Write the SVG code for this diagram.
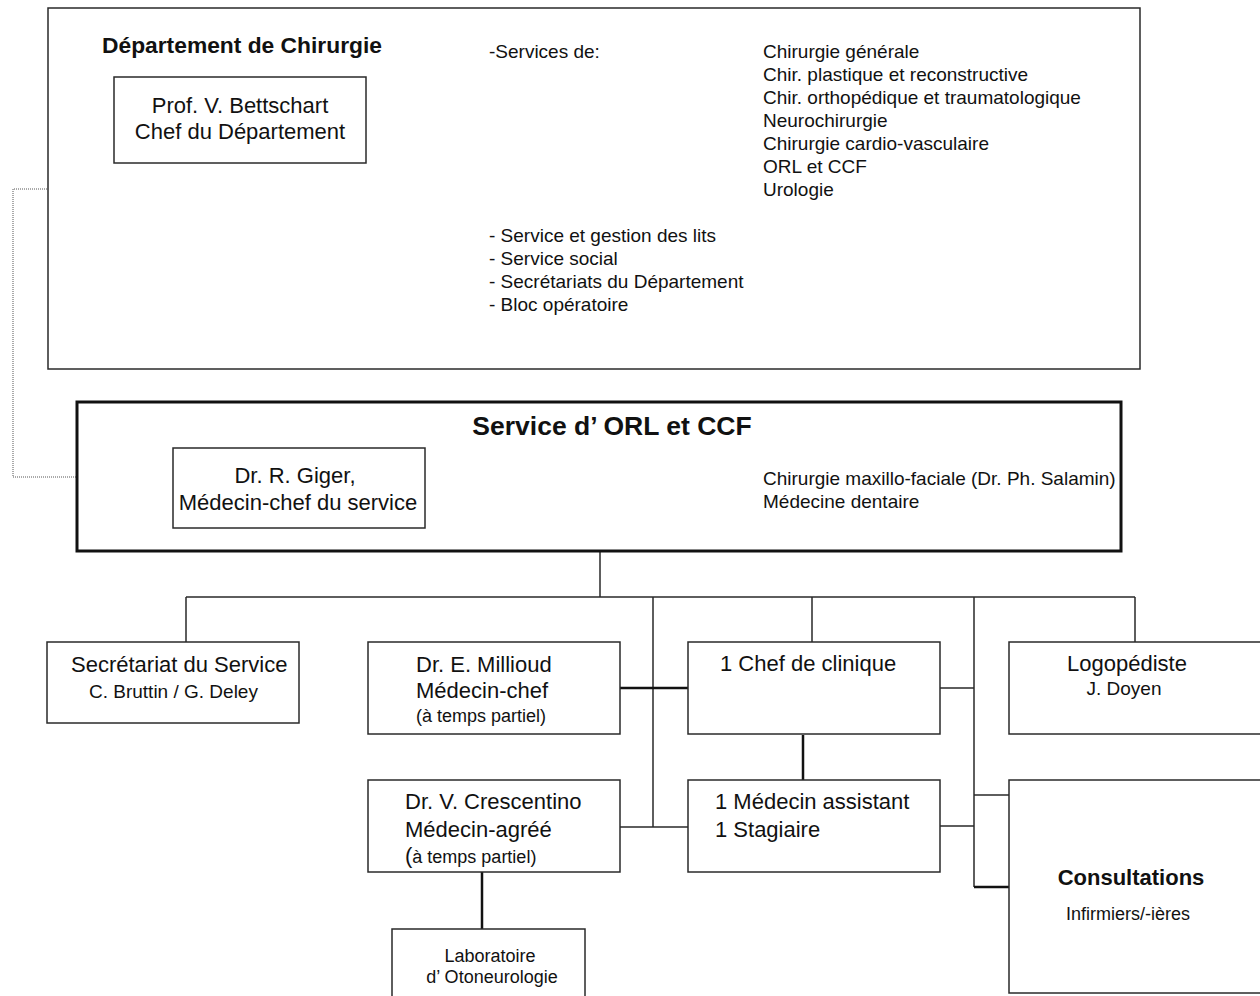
<svg xmlns="http://www.w3.org/2000/svg" width="1260" height="996" viewBox="0 0 1260 996">
<style>
text{font-family:"Liberation Sans",Arial,sans-serif;fill:#111}
.box{fill:#fff;stroke:#2a2a2a;stroke-width:1.5}
.thick{stroke-width:3;stroke:#111}
.l{font-size:22px}
.s{font-size:19px}
.xs{font-size:18px}
.b{font-weight:bold}
.m{text-anchor:middle}
.c{fill:none;stroke:#2a2a2a;stroke-width:1.5}
.ct{fill:none;stroke:#111;stroke-width:2.5}
.dot{fill:none;stroke:#555;stroke-width:1;stroke-dasharray:1 1}
</style>
<rect width="1260" height="996" fill="#fff"/>
<g id="connectors">
<path class="dot" d="M47,189 H13 V477 H77"/>
<path class="c" d="M600,551 V597 M186,597 H1135 M186,597 V642 M653,597 V827 M812,597 V642 M974,597 V887 M1135,597 V642 M940,688 H974 M620,827 H688 M940,826 H974 M974,795 H1009"/>
<path class="ct" d="M620,688 H688 M803,735 V780 M974,887 H1009 M482,872 V929"/>
</g>
<g id="departement">
<rect class="box" x="48" y="8" width="1092" height="361"/>
<text class="b" style="font-size:22.8px" x="102" y="53">Département de Chirurgie</text>
<text class="s" x="489" y="58">-Services de:</text>
<text class="s" x="763" y="58">Chirurgie générale</text>
<text class="s" x="763" y="81">Chir. plastique et reconstructive</text>
<text class="s" x="763" y="104">Chir. orthopédique et traumatologique</text>
<text class="s" x="763" y="127">Neurochirurgie</text>
<text class="s" x="763" y="150">Chirurgie cardio-vasculaire</text>
<text class="s" x="763" y="173">ORL et CCF</text>
<text class="s" x="763" y="196">Urologie</text>
<text class="s" x="489" y="242">- Service et gestion des lits</text>
<text class="s" x="489" y="265">- Service social</text>
<text class="s" x="489" y="288">- Secrétariats du Département</text>
<text class="s" x="489" y="311">- Bloc opératoire</text>
</g>
<g id="prof">
<rect class="box" x="114" y="77" width="252" height="86"/>
<text class="l m" x="240" y="113">Prof. V. Bettschart</text>
<text class="l m" x="240" y="139">Chef du Département</text>
</g>
<g id="service">
<rect class="box thick" x="77" y="402" width="1044" height="149"/>
<text class="b m" style="font-size:26.5px" x="612" y="435">Service d’ ORL et CCF</text>
<text class="s" x="763" y="485">Chirurgie maxillo-faciale (Dr. Ph. Salamin)</text>
<text class="s" x="763" y="508">Médecine dentaire</text>
</g>
<g id="giger">
<rect class="box" x="173" y="448" width="252" height="80"/>
<text class="l m" x="295" y="483">Dr. R. Giger,</text>
<text class="l m" x="298" y="510">Médecin-chef du service</text>
</g>
<g id="secretariat">
<rect class="box" x="47" y="642" width="252" height="81"/>
<text class="l" x="71" y="672">Secrétariat du Service</text>
<text class="s" x="89" y="698">C. Bruttin / G. Deley</text>
</g>
<g id="millioud">
<rect class="box" x="368" y="642" width="252" height="92"/>
<text class="l" x="416" y="672">Dr. E. Millioud</text>
<text class="l" x="416" y="698">Médecin-chef</text>
<text class="xs" x="416" y="722">(à temps partiel)</text>
</g>
<g id="chef-clinique">
<rect class="box" x="688" y="642" width="252" height="92"/>
<text class="l" x="720" y="671">1 Chef de clinique</text>
</g>
<g id="logopediste">
<rect class="box" x="1009" y="642" width="262" height="92"/>
<text class="l m" x="1127" y="671">Logopédiste</text>
<text class="s m" x="1124" y="695">J. Doyen</text>
</g>
<g id="crescentino">
<rect class="box" x="368" y="780" width="252" height="92"/>
<text class="l" x="405" y="809">Dr. V. Crescentino</text>
<text class="l" x="405" y="837">Médecin-agréé</text>
<text class="xs" x="405" y="863"><tspan style="font-size:22px">(</tspan>à temps partiel)</text>
</g>
<g id="assistant">
<rect class="box" x="688" y="780" width="252" height="92"/>
<text class="l" x="715" y="809">1 Médecin assistant</text>
<text class="l" x="715" y="837">1 Stagiaire</text>
</g>
<g id="consultations">
<rect class="box" x="1009" y="780" width="262" height="213"/>
<text class="l b m" x="1131" y="885">Consultations</text>
<text class="xs m" x="1128" y="920">Infirmiers/-ières</text>
</g>
<g id="laboratoire">
<rect class="box" x="392" y="929" width="193" height="90"/>
<text class="xs m" x="490" y="962">Laboratoire</text>
<text class="xs m" x="492" y="983">d’ Otoneurologie</text>
</g>
</svg>
